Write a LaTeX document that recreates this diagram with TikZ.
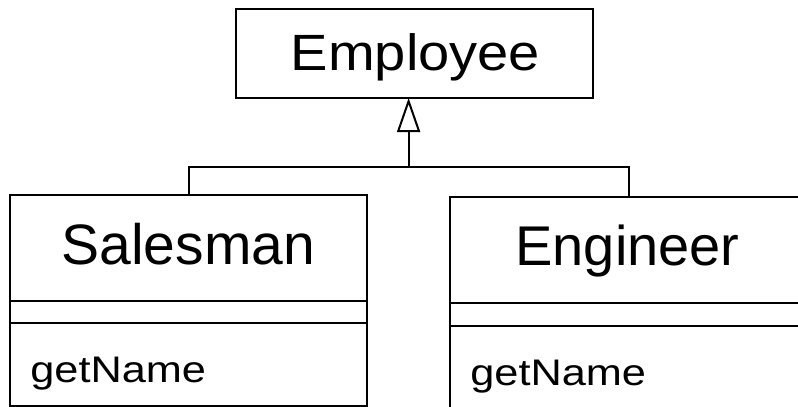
\documentclass[tikz,border=0pt]{standalone}
\usepackage{fontspec}
\setmainfont{Liberation Sans}
\usetikzlibrary{arrows.meta}
\begin{document}
\begin{tikzpicture}[x=1pt,y=-1pt,line width=2pt,
  clsbox/.style={draw,rectangle,inner sep=0pt,outer sep=0pt,anchor=north west,minimum width=357pt},
  lbl/.style={inner sep=0pt,outer sep=0pt,anchor=base},
  oplbl/.style={inner sep=0pt,outer sep=0pt,anchor=base west},
  gen/.style={-{Triangle[open,width=23pt,length=34pt]}}]
\clip (0,0) rectangle (798,407);
\fill[white] (0,0) rectangle (798,407);
% boxes
\node[clsbox,minimum height=89pt] (emp) at (236,9) {};
\node[clsbox,minimum height=211pt] (sal) at (10,195) {};
\node[clsbox,minimum height=250pt] (eng) at (450,197) {};
% compartments
\draw (10,301) -- (367,301);
\draw (10,323) -- (367,323);
\draw (450,303) -- (807,303);
\draw (450,326) -- (807,326);
% texts
\node[lbl] (empt) at (415.5,70.7) {\scalebox{1.1}[1]{\fontsize{51}{51}\selectfont Employee}};
\node[lbl] (salt) at (188.3,264) {\fontsize{57}{57}\selectfont Salesman};
\node[lbl] (engt) at (627.5,265) {\fontsize{56}{56}\selectfont Engineer};
\node[oplbl] (salop) at (30.4,382.5) {\scalebox{1.17}[1]{\fontsize{37}{37}\selectfont getName}};
\node[oplbl] (engop) at (470.4,385) {\scalebox{1.17}[1]{\fontsize{37}{37}\selectfont getName}};
% generalization
\coordinate (j) at (408.6,166.7);
\draw (sal.north) |- (j) -| (eng.north);
\draw[gen] (j) -- (j |- emp.south);
\end{tikzpicture}
\end{document}
